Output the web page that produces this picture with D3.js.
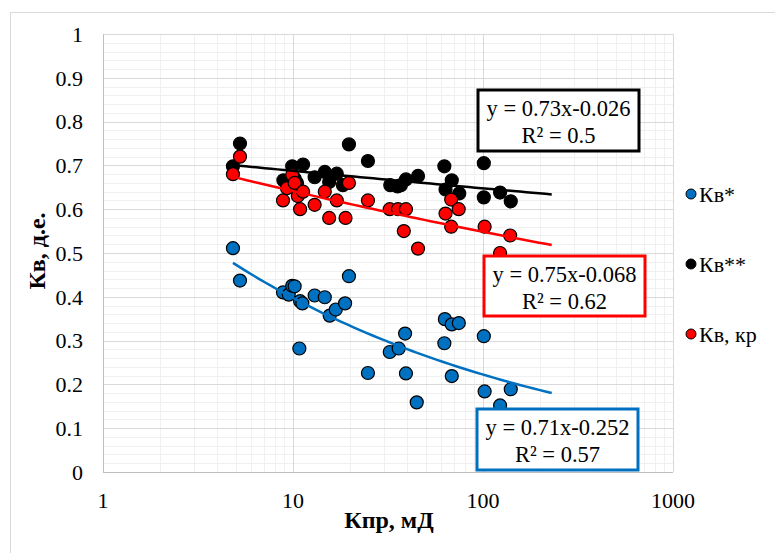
<!DOCTYPE html>
<html>
<head>
<meta charset="utf-8">
<script src="https://cdn.jsdelivr.net/npm/d3@7.9.0/dist/d3.min.js"></script>
<style>
  body { margin: 0; background: #fff; }
  svg { display: block; }
  text { font-family: "Liberation Serif", "Times New Roman", serif; fill: #000; }
</style>
</head>
<body>
<svg id="chart" width="775" height="553"></svg>
<script>
// ---- data ----
const xTicks = [1, 10, 100, 1000];
const yTicks = [0, 0.1, 0.2, 0.3, 0.4, 0.5, 0.6, 0.7, 0.8, 0.9, 1];
const seriesNames = ['Кв*', 'Кв**', 'Кв, кр'];
const seriesColors = ['#0070c0', '#000000', '#ff0000'];

// Кв*  [Кпр, Кв]
const kvStar = [
  [4.83, 0.511], [5.26, 0.437], [8.86, 0.41], [9.5, 0.405], [9.9, 0.425],
  [10.2, 0.424], [10.9, 0.39], [11.2, 0.385], [10.8, 0.282], [13.0, 0.403],
  [14.7, 0.399], [15.6, 0.357], [16.8, 0.371], [18.8, 0.385], [19.7, 0.447],
  [24.8, 0.226], [32.3, 0.274], [36, 0.282], [38.9, 0.316], [39.3, 0.225],
  [44.8, 0.159], [62.6, 0.294], [63, 0.349], [68.5, 0.337], [74.6, 0.34],
  [68.5, 0.219], [101, 0.31], [102, 0.184], [123, 0.152], [140, 0.189]
];
// Кв**
const kvStar2 = [
  [4.83, 0.698], [5.26, 0.75], [8.9, 0.666], [9.9, 0.698], [10.2, 0.67],
  [10.5, 0.66], [11.3, 0.702], [13, 0.673], [14.7, 0.685], [15.5, 0.662],
  [17, 0.681], [18.3, 0.655], [19.7, 0.748], [24.8, 0.71], [32.5, 0.655],
  [35.5, 0.652], [37, 0.655], [39.3, 0.668], [45.5, 0.676], [62.6, 0.698],
  [63.5, 0.645], [68.5, 0.666], [75, 0.636], [101, 0.705], [101, 0.627],
  [123, 0.638], [140, 0.618]
];
// Кв, кр
const kvCr = [
  [4.83, 0.68], [5.26, 0.72], [8.86, 0.62], [9.3, 0.648], [9.9, 0.678],
  [10.2, 0.66], [10.6, 0.63], [10.9, 0.60], [11.3, 0.64], [13, 0.61],
  [14.7, 0.64], [15.5, 0.58], [17, 0.62], [18.9, 0.58], [19.7, 0.66],
  [24.8, 0.62], [32.3, 0.60], [35.7, 0.60], [39.3, 0.60], [38.3, 0.55],
  [45.5, 0.51], [63.5, 0.59], [68, 0.622], [68, 0.56], [74.5, 0.60],
  [102, 0.56], [123, 0.50], [139, 0.54]
];

// степенные тренды y = a * x^b
const trendA = [0.71, 0.73, 0.75];
const trendB = [-0.252, -0.026, -0.068];
const trendRange = [4.83, 230];
const eqLines = [
  ['y = 0.71x-0.252', 'R² = 0.57'],
  ['y = 0.73x-0.026', 'R² = 0.5'],
  ['y = 0.75x-0.068', 'R² = 0.62']
];

// ---- layout ----
const svg = d3.select('#chart');
const x = d3.scaleLog().domain([1, 1000]).range([103, 673]);
const y = d3.scaleLinear().domain([0, 1]).range([472, 34]);

// внешняя рамка
svg.append('rect')
  .attr('x', 10.5).attr('y', 12.5).attr('width', 800).attr('height', 600)
  .attr('fill', 'none').attr('stroke', '#d9d9d9');

const grid = svg.append('g');
// вспомогательная сетка
const yMinor = d3.range(0, 1.0001, 0.02);
grid.selectAll('.ym').data(yMinor).enter().append('line')
  .attr('x1', x(1)).attr('x2', x(1000))
  .attr('y1', d => Math.round(y(d)) + 0.5).attr('y2', d => Math.round(y(d)) + 0.5)
  .attr('stroke', '#f0f0f0');
const xMinor = [];
[1, 10, 100].forEach(dec => { for (let k = 2; k <= 9; k++) xMinor.push(dec * k); });
grid.selectAll('.xm').data(xMinor).enter().append('line')
  .attr('y1', y(0)).attr('y2', y(1))
  .attr('x1', d => Math.round(x(d)) + 0.5).attr('x2', d => Math.round(x(d)) + 0.5)
  .attr('stroke', '#f0f0f0');
// основная сетка
grid.selectAll('.yM').data(yTicks).enter().append('line')
  .attr('x1', x(1)).attr('x2', x(1000))
  .attr('y1', d => Math.round(y(d)) + 0.5).attr('y2', d => Math.round(y(d)) + 0.5)
  .attr('stroke', d => d === 0 ? '#bfbfbf' : '#d9d9d9');
grid.selectAll('.xM').data(xTicks).enter().append('line')
  .attr('y1', y(0)).attr('y2', y(1))
  .attr('x1', d => Math.round(x(d)) + 0.5).attr('x2', d => Math.round(x(d)) + 0.5)
  .attr('stroke', d => d === 1 ? '#bfbfbf' : '#d9d9d9');

// подписи осей
svg.append('g').selectAll('text').data(yTicks).enter().append('text')
  .attr('x', 83).attr('y', d => y(d)).attr('dy', '0.35em')
  .attr('text-anchor', 'end').attr('font-size', 22)
  .text(d => d3.format('~g')(d));
svg.append('g').selectAll('text').data(xTicks).enter().append('text')
  .attr('x', d => x(d)).attr('y', 508)
  .attr('text-anchor', 'middle').attr('font-size', 22)
  .text(d => d);

svg.append('text')
  .attr('x', 389).attr('y', 528).attr('text-anchor', 'middle')
  .attr('font-size', 24).attr('font-weight', 'bold')
  .text('Кпр, мД');
svg.append('text')
  .attr('transform', 'translate(45,251) rotate(-90)').attr('text-anchor', 'middle')
  .attr('font-size', 24).attr('font-weight', 'bold')
  .text('Кв, д.е.');

// точки
const allSeries = [kvStar, kvStar2, kvCr];
allSeries.forEach((data, i) => {
  svg.append('g').selectAll('circle').data(data).enter().append('circle')
    .attr('cx', d => x(d[0])).attr('cy', d => y(d[1])).attr('r', 6.5)
    .attr('fill', seriesColors[i]).attr('stroke', '#000').attr('stroke-width', 1.2);
});

// линии тренда
allSeries.forEach((_, i) => {
  const xs = d3.range(0, 51).map(k => trendRange[0] * Math.pow(trendRange[1] / trendRange[0], k / 50));
  const l = d3.line().x(d => x(d)).y(d => y(trendA[i] * Math.pow(d, trendB[i])));
  svg.append('path').attr('d', l(xs))
    .attr('fill', 'none').attr('stroke', seriesColors[i]).attr('stroke-width', 2.5);
});

// подписи уравнений
const boxes = [
  { x: 477, y: 409, w: 161, h: 61 },
  { x: 478, y: 90, w: 161, h: 61 },
  { x: 484, y: 256, w: 161, h: 60 }
];
boxes.forEach((b, i) => {
  const g = svg.append('g');
  g.append('rect').attr('x', b.x).attr('y', b.y).attr('width', b.w).attr('height', b.h)
    .attr('fill', '#fff').attr('stroke', seriesColors[i]).attr('stroke-width', 3);
  g.selectAll('text').data(eqLines[i]).enter().append('text')
    .attr('x', b.x + b.w / 2).attr('y', (d, k) => b.y + 18 + k * 27).attr('dy', '0.35em')
    .attr('text-anchor', 'middle').attr('font-size', 22.5)
    .text(d => d);
});

// легенда
const legend = svg.append('g');
seriesNames.forEach((name, i) => {
  const ly = 194 + i * 70;
  legend.append('circle').attr('cx', 691).attr('cy', ly).attr('r', 5)
    .attr('fill', seriesColors[i]).attr('stroke', '#000').attr('stroke-width', 1);
  legend.append('text').attr('x', 699).attr('y', ly).attr('dy', '0.35em')
    .attr('font-size', 22).text(name);
});
</script>
</body>
</html>
